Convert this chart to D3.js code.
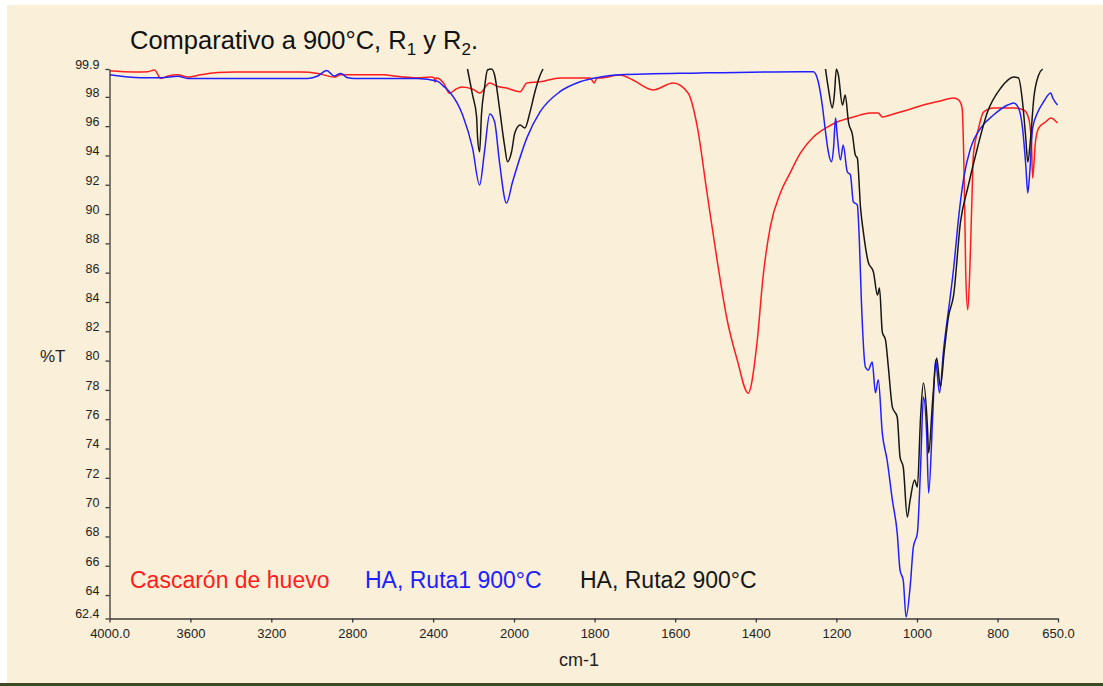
<!DOCTYPE html>
<html>
<head>
<meta charset="utf-8">
<script src="https://cdn.jsdelivr.net/npm/d3@7"></script>
<style>
  html, body { margin: 0; padding: 0; background: #ffffff; }
  svg { display: block; }
  text { font-family: "Liberation Sans", Arial, sans-serif; }
</style>
</head>
<body>
<svg id="chart" width="1103" height="686"></svg>
<script>
// IR spectra, %T versus wavenumber (cm-1)
const xTickValues = [4000, 3600, 3200, 2800, 2400, 2000, 1800, 1600, 1400, 1200, 1000, 800, 650];
const xTickLabels = ["4000.0", "3600", "3200", "2800", "2400", "2000", "1800", "1600", "1400", "1200", "1000", "800", "650.0"];
const yTickValues = [99.9, 98, 96, 94, 92, 90, 88, 86, 84, 82, 80, 78, 76, 74, 72, 70, 68, 66, 64, 62.4];
const yTickLabels = ["99.9", "98", "96", "94", "92", "90", "88", "86", "84", "82", "80", "78", "76", "74", "72", "70", "68", "66", "64", "62.4"];

const seriesNames = ["Cascarón de huevo", "HA, Ruta1 900°C", "HA, Ruta2 900°C"];

// [wavenumber, %T]
const cascaron = [
  [4000, 99.78], [3877, 99.7], [3810, 99.72], [3778, 99.83], [3746, 99.26], [3711, 99.42],
  [3662, 99.5], [3612, 99.35], [3548, 99.5], [3464, 99.66], [3383, 99.7], [3054, 99.7],
  [2970, 99.6], [2889, 99.35], [2857, 99.5], [2642, 99.5], [2593, 99.42], [2477, 99.3],
  [2412, 99.35], [2395, 99.3], [2390, 99.0], [2385, 99.3], [2346, 98.9], [2319, 98.24],
  [2290, 98.5], [2259, 98.67], [2200, 98.5], [2170, 98.26], [2120, 98.94], [2080, 98.7],
  [2037, 98.6], [1985, 98.35], [1968, 98.94], [1935, 99.03], [1886, 99.29], [1843, 99.29],
  [1811, 99.29], [1801, 98.94], [1794, 99.29], [1786, 99.29], [1737, 99.49], [1705, 99.15],
  [1655, 98.47], [1605, 98.94], [1568, 98.26], [1545, 95.94], [1521, 91.44], [1496, 86.86],
  [1471, 82.77], [1446, 80.04], [1419, 77.78], [1397, 81.2], [1382, 85.7], [1364, 89.12],
  [1339, 91.44], [1315, 92.8], [1289, 94.17], [1257, 95.26], [1222, 95.94], [1198, 96.28],
  [1158, 96.62], [1116, 96.9], [1096, 96.9], [1086, 96.62], [1066, 96.76], [1024, 97.1],
  [984, 97.44], [942, 97.72], [909, 97.92], [896, 97.78], [888, 97.24], [884, 94.03],
  [881, 89.46], [879, 86.04], [874, 83.45], [869, 86.04], [864, 90.62], [860, 94.03],
  [847, 95.87], [835, 96.96], [810, 97.24], [760, 97.24], [735, 97.1], [723, 96.56],
  [716, 94.92], [713, 92.46], [706, 94.92], [698, 95.87], [681, 96.28], [668, 96.56],
  [651, 96.21]
];

const ruta1 = [
  [4000, 99.5], [3844, 99.3], [3745, 99.3], [3662, 99.4], [3612, 99.26], [3020, 99.26],
  [2970, 99.42], [2926, 99.8], [2889, 99.42], [2857, 99.6], [2822, 99.3], [2790, 99.26],
  [2477, 99.26], [2378, 99.07], [2346, 98.7], [2319, 98.35], [2254, 96.76], [2205, 94.5],
  [2170, 91.98], [2146, 94.25], [2120, 96.83], [2096, 96.3], [2072, 93.57], [2037, 90.75],
  [2007, 92.2], [1968, 95.2], [1935, 96.99], [1886, 98.35], [1836, 99.03], [1786, 99.35],
  [1737, 99.5], [1538, 99.63], [1289, 99.72], [1257, 99.72], [1245, 99.03], [1235, 97.44],
  [1227, 95.62], [1220, 94.25], [1212, 93.57], [1207, 94.5], [1202, 96.56], [1198, 95.4],
  [1190, 93.69], [1183, 94.71], [1173, 92.89], [1165, 92.66], [1158, 90.84], [1148, 90.62],
  [1143, 88.2], [1138, 84.13], [1128, 79.56], [1121, 79.35], [1111, 79.9], [1103, 77.8],
  [1096, 78.7], [1086, 75.05], [1074, 73.2], [1061, 70.48], [1049, 68.23], [1042, 65.7],
  [1034, 65.0], [1027, 62.5], [1017, 64.54], [1009, 67.27], [999, 68.23], [991, 72.73],
  [984, 77.51], [976, 75.05], [971, 70.96], [961, 76.15], [954, 80.04], [944, 77.8],
  [934, 80.72], [924, 82.97], [921, 83.59], [909, 86.3], [896, 89.93], [884, 92.46],
  [867, 94.5], [842, 95.87], [810, 96.76], [775, 97.44], [760, 97.58], [748, 97.24],
  [738, 95.87], [730, 93.35], [725, 91.44], [720, 92.87], [713, 95.87], [700, 96.96],
  [686, 97.65], [668, 98.26], [663, 97.92], [651, 97.44]
];

// Ruta2 runs off the top of the %T range, so it is drawn as two pieces
const ruta2Alta = [
  [2230, 99.9], [2205, 98.13], [2185, 96.64], [2180, 95.19], [2170, 94.25], [2161, 96.76],
  [2146, 98.6], [2131, 99.83], [2111, 99.9], [2096, 99.49], [2072, 97.24], [2047, 94.71],
  [2032, 93.57], [2012, 94.25], [1998, 95.53], [1985, 96.08], [1973, 95.87], [1960, 96.99],
  [1948, 98.35], [1935, 99.49], [1928, 99.9]
];

const ruta2Baja = [
  [1227, 99.9], [1220, 98.6], [1210, 97.24], [1205, 98.13], [1200, 99.9], [1195, 99.49],
  [1185, 97.44], [1178, 98.13], [1170, 96.28], [1160, 95.4], [1153, 94.03], [1148, 93.82],
  [1140, 90.41], [1133, 88.77], [1121, 86.73], [1108, 86.04], [1098, 84.47], [1093, 84.95],
  [1086, 81.95], [1078, 81.4], [1071, 79.56], [1061, 76.83], [1049, 76.15], [1042, 73.42],
  [1034, 72.73], [1024, 69.32], [1017, 70.48], [1006, 71.85], [999, 71.37], [991, 76.15],
  [984, 78.47], [974, 75.46], [971, 73.69], [961, 77.31], [951, 80.18], [942, 78.2],
  [932, 80.72], [922, 82.97], [909, 84.47], [892, 89.46], [874, 91.78], [850, 94.51],
  [825, 96.96], [792, 98.6], [760, 99.35], [748, 99.29], [738, 97.65], [730, 95.19],
  [725, 93.55], [718, 95.19], [710, 97.92], [698, 99.49], [688, 99.9]
];

const svg = d3.select("#chart");
const W = 1103, H = 686;

// page background
svg.append("rect").attr("x", 0).attr("y", 0).attr("width", W).attr("height", H).attr("fill", "#ffffff");
svg.append("rect").attr("x", 7).attr("y", 5).attr("width", W - 7).attr("height", H - 8).attr("fill", "#faefd8");
svg.append("rect").attr("x", 0).attr("y", H - 3).attr("width", W).attr("height", 3).attr("fill", "#3b4a22");

// the wavenumber axis changes scale at 2000 cm-1
const x = d3.scaleLinear().domain([4000, 2000, 650]).range([109.5, 514, 1058]);
const y = d3.scaleLinear().domain([62.4, 99.9]).range([618.5, 69]);

svg.append("defs").append("clipPath").attr("id", "plot")
  .append("rect").attr("x", x(4000)).attr("y", y(99.9) - 1)
  .attr("width", x(650) - x(4000)).attr("height", y(62.4) - y(99.9) + 2);

const line = d3.line()
  .x(d => x(d[0]))
  .y(d => y(d[1]))
  .curve(d3.curveMonotoneX);

const traces = [
  { data: cascaron, color: "#ff1c1c" },
  { data: ruta1, color: "#2020ff" },
  { data: ruta2Alta, color: "#161616" },
  { data: ruta2Baja, color: "#161616" }
];

const plot = svg.append("g").attr("clip-path", "url(#plot)");
plot.selectAll("path.trace")
  .data(traces)
  .join("path")
  .attr("class", "trace")
  .attr("d", d => line(d.data))
  .attr("fill", "none")
  .attr("stroke", d => d.color)
  .attr("stroke-width", 1.5)
  .attr("stroke-linejoin", "round");

// axes
const axisColor = "#3a3a3a";
const yAxis = svg.append("g")
  .attr("transform", `translate(${x(4000)},0)`)
  .call(d3.axisLeft(y).tickValues(yTickValues)
    .tickFormat((d, i) => yTickLabels[i]).tickSize(4).tickSizeOuter(0).tickPadding(6));
yAxis.selectAll("text").attr("dy", "-0.05em").attr("font-size", 12.5)
  .attr("font-family", "Liberation Sans, Arial, sans-serif").attr("fill", "#222");

const xAxis = svg.append("g")
  .attr("transform", `translate(0,${y(62.4)})`)
  .call(d3.axisBottom(x).tickValues(xTickValues)
    .tickFormat((d, i) => xTickLabels[i]).tickSize(4).tickSizeOuter(0).tickPadding(6));
xAxis.selectAll("text").attr("font-size", 13)
  .attr("font-family", "Liberation Sans, Arial, sans-serif").attr("fill", "#222");

svg.selectAll(".domain, .tick line").attr("stroke", axisColor).attr("stroke-width", 1.3);

// axis titles
svg.append("text").attr("x", 40).attr("y", 362).attr("font-size", 17).attr("fill", "#222").text("%T");
svg.append("text").attr("x", 579).attr("y", 666).attr("text-anchor", "middle")
  .attr("font-size", 18).attr("fill", "#222").text("cm-1");

// title with subscripts
const title = svg.append("text").attr("x", 130).attr("y", 49).attr("font-size", 25.5).attr("fill", "#111");
title.append("tspan").text("Comparativo a 900°C, R");
title.append("tspan").attr("font-size", 17).attr("dy", 6).text("1");
title.append("tspan").attr("dy", -6).text(" y R");
title.append("tspan").attr("font-size", 17).attr("dy", 6).text("2");
title.append("tspan").attr("dy", -6).text(".");

// legend
const legendX = [130, 365, 580];
const legendColors = ["#ff1c1c", "#2020ff", "#161616"];
svg.selectAll("text.legend")
  .data(seriesNames)
  .join("text")
  .attr("class", "legend")
  .attr("x", (d, i) => legendX[i])
  .attr("y", 588)
  .attr("font-size", 23)
  .attr("fill", (d, i) => legendColors[i])
  .text(d => d);
</script>
</body>
</html>
